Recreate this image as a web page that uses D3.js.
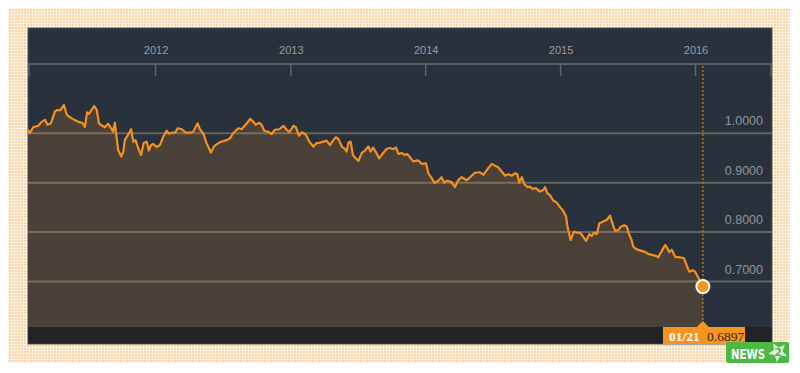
<!DOCTYPE html>
<html>
<head>
<meta charset="utf-8">
<script src="https://cdn.jsdelivr.net/npm/d3@7"></script>
<style>
  html, body { margin: 0; padding: 0; background: #fff; }
  svg { display: block; }
</style>
</head>
<body>
<div id="graphics-box"></div>
<script>
// DATA: days since first close (2011-01-21) and closing value
const startDate = "2011-01-21";
const dayOffsets = [
  0, 5, 14, 28, 37, 46, 53, 62, 73, 79, 87, 97, 105, 118, 136, 147, 154, 160, 165, 172,
  179, 186, 192, 201, 208, 217, 225, 230, 235, 240, 244, 252, 258, 262, 271, 279, 285, 291, 298, 306,
  313, 321, 327, 333, 339, 348, 357, 366, 375, 381, 389, 398, 405, 416, 427, 438, 447, 459, 465, 474,
  483, 495, 504, 515, 524, 538, 547, 555, 569, 578, 592, 601, 610, 616, 626, 632, 639, 650, 659, 668,
  680, 691, 700, 707, 718, 725, 733, 741, 752, 761, 772, 781, 790, 799, 808, 817, 826, 833, 840, 849,
  858, 862, 867, 873, 879, 885, 894, 903, 912, 921, 927, 934, 942, 950, 961, 970, 979, 988, 996, 1002,
  1011, 1020, 1026, 1034, 1042, 1056, 1065, 1077, 1083, 1092, 1101, 1110, 1119, 1126, 1134, 1146, 1155, 1164, 1173, 1187,
  1196, 1209, 1223, 1232, 1243, 1255, 1264, 1272, 1282, 1291, 1300, 1309, 1318, 1324, 1329, 1336, 1343, 1351, 1358, 1366,
  1374, 1385, 1394, 1399, 1405, 1412, 1421, 1430, 1439, 1448, 1456, 1459, 1468, 1477, 1485, 1495, 1502, 1510, 1519, 1525,
  1531, 1539, 1546, 1555, 1566, 1575, 1579, 1588, 1597, 1604, 1613, 1620, 1627, 1633, 1638, 1647, 1660, 1669, 1678, 1688,
  1699, 1705, 1715, 1724, 1730, 1735, 1742, 1751, 1764, 1775, 1782, 1789, 1798, 1805, 1814, 1826
];
const closes = [
  1.007, 1.000, 1.012, 1.015, 1.023, 1.027, 1.017, 1.020, 1.044, 1.047, 1.046, 1.057, 1.037, 1.030, 1.023, 1.021, 1.013, 1.042, 1.039, 1.047,
  1.055, 1.047, 1.020, 1.015, 1.012, 1.019, 1.010, 1.003, 1.021, 0.990, 0.966, 0.953, 0.963, 0.986, 0.997, 1.008, 0.983, 0.986, 0.970, 0.956,
  0.980, 0.983, 0.965, 0.976, 0.978, 0.972, 0.976, 0.993, 1.005, 0.999, 1.001, 1.001, 1.010, 1.008, 1.001, 1.001, 1.003, 1.020, 1.008, 1.000,
  0.980, 0.961, 0.974, 0.980, 0.983, 0.986, 0.990, 1.000, 1.010, 1.008, 1.020, 1.029, 1.023, 1.017, 1.021, 1.017, 1.005, 1.003, 0.998, 1.007,
  1.008, 1.015, 1.007, 1.002, 1.015, 1.012, 0.995, 1.002, 0.997, 0.983, 0.973, 0.980, 0.981, 0.983, 0.985, 0.976, 0.986, 0.992, 0.988, 0.973,
  0.968, 0.963, 0.981, 0.983, 0.956, 0.951, 0.944, 0.960, 0.965, 0.973, 0.963, 0.971, 0.961, 0.949, 0.960, 0.968, 0.970, 0.968, 0.971, 0.958,
  0.960, 0.956, 0.958, 0.951, 0.943, 0.945, 0.938, 0.939, 0.919, 0.909, 0.899, 0.904, 0.911, 0.900, 0.904, 0.901, 0.891, 0.905, 0.911, 0.905,
  0.911, 0.920, 0.921, 0.916, 0.927, 0.938, 0.934, 0.931, 0.922, 0.914, 0.917, 0.914, 0.919, 0.917, 0.900, 0.911, 0.897, 0.891, 0.892, 0.887,
  0.889, 0.882, 0.885, 0.891, 0.879, 0.875, 0.864, 0.860, 0.851, 0.843, 0.831, 0.814, 0.784, 0.801, 0.799, 0.798, 0.791, 0.782, 0.796, 0.792,
  0.799, 0.796, 0.818, 0.821, 0.825, 0.833, 0.823, 0.803, 0.804, 0.811, 0.814, 0.811, 0.794, 0.784, 0.770, 0.765, 0.762, 0.760, 0.756, 0.754,
  0.752, 0.749, 0.762, 0.774, 0.767, 0.760, 0.764, 0.750, 0.749, 0.747, 0.733, 0.720, 0.723, 0.720, 0.707, 0.6897
];
const yTicks = [0.7, 0.8, 0.9, 1.0];
const xYears = [2012, 2013, 2014, 2015, 2016];
const lastLabel = "01/21";

// SIZES
const w = 800;
const h = 373;
const panel = { left: 28, right: 772, top: 28, axis: 64, plotBottom: 327, bottom: 344 };

const parse = d3.timeParse("%Y-%m-%d");
const start = parse(startDate);
const dataset = dayOffsets.map((d, i) => ({ date: d3.timeDay.offset(start, d), value: closes[i] }));
const last = dataset[dataset.length - 1];

const svg = d3.select("#graphics-box").append("svg").attr("width", w).attr("height", h);

// BACKGROUND FRAME PATTERN
const defs = svg.append("defs");
const pat = defs.append("pattern")
  .attr("id", "dots")
  .attr("width", 3)
  .attr("height", 3)
  .attr("patternUnits", "userSpaceOnUse");
pat.append("rect").attr("width", 3).attr("height", 3).attr("fill", "#fff4e8");
pat.append("rect").attr("width", 2).attr("height", 2).attr("fill", "#fdd5a3");

svg.append("rect")
  .attr("x", 8).attr("y", 8)
  .attr("width", 782).attr("height", 355)
  .attr("fill", "url(#dots)");

// PANEL
svg.append("rect")
  .attr("x", panel.left).attr("y", panel.top)
  .attr("width", panel.right - panel.left).attr("height", panel.bottom - panel.top)
  .attr("fill", "#29323c")
  .attr("stroke", "#4d545c");

// SCALES
const xScale = d3.scaleTime()
  .domain([start, d3.timeDay.offset(start, 2013)])
  .range([panel.left, panel.right]);

const yScale = d3.scaleLinear()
  .domain([0.608, 1.14])
  .range([panel.plotBottom, panel.axis]);

// AREA + LINE
const area = d3.area()
  .x((d) => xScale(d.date))
  .y0(panel.plotBottom)
  .y1((d) => yScale(d.value));

svg.append("path")
  .datum(dataset)
  .attr("d", area)
  .attr("fill", "#4a4139");

// GRID LINES
svg.append("g")
  .selectAll("line")
  .data(yTicks)
  .enter()
  .append("line")
  .attr("x1", panel.left)
  .attr("x2", panel.right)
  .attr("y1", (d) => yScale(d))
  .attr("y2", (d) => yScale(d))
  .attr("stroke", "rgba(255,228,195,0.28)")
  .attr("stroke-width", 2);

// Y LABELS
svg.append("g")
  .selectAll("text")
  .data(yTicks)
  .enter()
  .append("text")
  .attr("x", 763)
  .attr("y", (d) => yScale(d) - 8)
  .attr("text-anchor", "end")
  .attr("font-family", "Arial, 'Liberation Sans', sans-serif")
  .attr("font-size", 12.5)
  .attr("fill", "#8e949b")
  .text((d) => d3.format(".4f")(d));

const line = d3.line()
  .x((d) => xScale(d.date))
  .y((d) => yScale(d.value));

svg.append("path")
  .datum(dataset)
  .attr("d", line)
  .attr("fill", "none")
  .attr("stroke", "#f5901e")
  .attr("stroke-width", 2.2)
  .attr("stroke-linejoin", "round");

// BOTTOM STRIP
svg.append("rect")
  .attr("x", panel.left + 0.5).attr("y", panel.plotBottom)
  .attr("width", panel.right - panel.left - 1).attr("height", panel.bottom - panel.plotBottom - 0.5)
  .attr("fill", "#222324");

// X AXIS
const yearDates = xYears.map((y) => new Date(y, 0, 1));
const xAxis = d3.axisTop(xScale)
  .tickValues(yearDates)
  .tickFormat(d3.timeFormat("%Y"))
  .tickSize(0)
  .tickPadding(10);

const axisG = svg.append("g")
  .attr("transform", "translate(0," + panel.axis + ")")
  .call(xAxis);
axisG.select(".domain").remove();
axisG.selectAll("text")
  .attr("font-family", "Arial, 'Liberation Sans', sans-serif")
  .attr("font-size", 11)
  .attr("fill", "#979ca2");

svg.append("line")
  .attr("x1", panel.left).attr("x2", panel.right)
  .attr("y1", panel.axis).attr("y2", panel.axis)
  .attr("stroke", "#575d64")
  .attr("stroke-width", 2);

svg.append("g")
  .selectAll("line")
  .data(yearDates.map((d) => xScale(d)).concat([panel.left + 1, panel.right - 1]))
  .enter()
  .append("line")
  .attr("x1", (d) => d)
  .attr("x2", (d) => d)
  .attr("y1", panel.axis)
  .attr("y2", panel.axis + 12)
  .attr("stroke", "#5f656c")
  .attr("stroke-width", 1.5);

// CURRENT MARKER
const lx = xScale(last.date);
const ly = yScale(last.value);

svg.append("line")
  .attr("x1", lx).attr("x2", lx)
  .attr("y1", panel.axis + 2).attr("y2", panel.plotBottom - 6)
  .attr("stroke", "#a47a1c")
  .attr("stroke-width", 1.5)
  .attr("stroke-dasharray", "2,2");

svg.append("circle")
  .attr("cx", lx).attr("cy", ly)
  .attr("r", 6.5)
  .attr("fill", "#f7941d")
  .attr("stroke", "#fff")
  .attr("stroke-width", 2);

// LABEL BOX
svg.append("rect")
  .attr("x", 663).attr("y", panel.plotBottom)
  .attr("width", 82).attr("height", panel.bottom - panel.plotBottom)
  .attr("fill", "#f7941d");
svg.append("path")
  .attr("d", "M" + (lx - 6) + "," + panel.plotBottom + "L" + lx + "," + (panel.plotBottom - 6) + "L" + (lx + 6) + "," + panel.plotBottom + "Z")
  .attr("fill", "#f7941d");

svg.append("text")
  .attr("x", 669).attr("y", 340.5)
  .attr("font-family", "'Liberation Serif', serif")
  .attr("font-size", 13.5)
  .attr("font-weight", "bold")
  .attr("fill", "#fff")
  .text(lastLabel);
svg.append("text")
  .attr("x", 707).attr("y", 340.5)
  .attr("font-family", "'Liberation Serif', serif")
  .attr("font-size", 13.5)
  .attr("fill", "#3b2708")
  .text(d3.format(".4f")(last.value));

// NEWS LOGO
const logo = svg.append("g").attr("transform", "translate(726,342)");
logo.append("rect")
  .attr("width", 63).attr("height", 21)
  .attr("rx", 2)
  .attr("fill", "#4cb944");
logo.append("text")
  .attr("x", 5).attr("y", 17)
  .attr("font-family", "'DejaVu Sans Condensed', 'DejaVu Sans', sans-serif")
  .attr("font-weight", "bold")
  .attr("font-size", 14)
  .attr("textLength", 34)
  .attr("lengthAdjust", "spacingAndGlyphs")
  .attr("fill", "#fff")
  .text("NEWS");
const star = d3.range(10).map((i) => {
  const a = -Math.PI / 2 + (i * Math.PI) / 5 - 0.5;
  const r = i % 2 === 0 ? 10 : 4.5;
  return [52 + r * Math.cos(a), 10 + r * Math.sin(a)];
});
logo.append("polygon")
  .attr("points", star.map((p) => p.join(",")).join(" "))
  .attr("fill", "#fff")
  .attr("opacity", 0.85);
logo.append("text")
  .attr("x", 52).attr("y", 14)
  .attr("text-anchor", "middle")
  .attr("font-family", "'DejaVu Sans', sans-serif")
  .attr("font-weight", "bold")
  .attr("font-size", 11)
  .attr("fill", "#4cb944")
  .text("2");
</script>
</body>
</html>
